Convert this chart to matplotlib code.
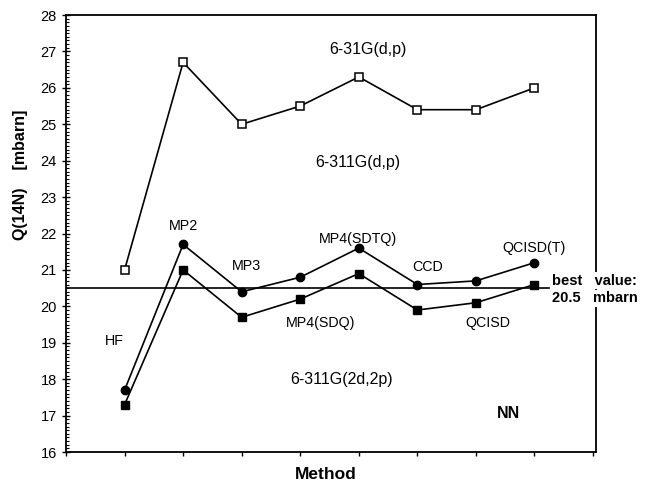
import matplotlib.pyplot as plt
import numpy as np
from matplotlib.ticker import MultipleLocator

plt.rcParams['font.family'] = ['Liberation Sans', 'DejaVu Sans']

methods = ['HF', 'MP2', 'MP3', 'MP4(SDQ)', 'MP4(SDTQ)', 'CCD', 'QCISD', 'QCISD(T)']
q_631g_dp = [21.0, 26.7, 25.0, 25.5, 26.3, 25.4, 25.4, 26.0]
q_6311g_dp = [17.7, 21.7, 20.4, 20.8, 21.6, 20.6, 20.7, 21.2]
q_6311g_2d2p = [17.3, 21.0, 19.7, 20.2, 20.9, 19.9, 20.1, 20.6]
best_value = 20.5

x = np.arange(1, len(methods) + 1)

fig = plt.figure(figsize=(6.45, 4.84), dpi=100)
ax = fig.add_axes([0.1023, 0.066, 0.8217, 0.903])

ax.plot(x, q_631g_dp, '-s', color='black', mfc='white', mec='black', ms=6, mew=1.1, lw=1.2)
ax.plot(x, q_6311g_dp, '-o', color='black', ms=6, lw=1.2)
ax.plot(x, q_6311g_2d2p, '-s', color='black', ms=6, lw=1.2)

# best value line
ax.plot([0, 8.25], [best_value, best_value], color='black', lw=1.2)
ax.text(8.3, 20.7, 'best   value:', fontsize=10.5, fontweight='bold', va='center', ha='left',
        bbox=dict(facecolor='white', edgecolor='none', pad=1))
ax.text(8.3, 20.22, '20.5   mbarn', fontsize=10.5, fontweight='bold', va='center', ha='left',
        bbox=dict(facecolor='white', edgecolor='none', pad=1))

# method labels
label_pos = [(0.82, 19.05), (2.0, 22.2), (3.08, 21.1), (4.35, 19.55),
             (4.98, 21.85), (6.18, 21.08), (7.2, 19.55), (8.0, 21.6)]
for name, (lx, ly) in zip(methods, label_pos):
    ax.text(lx, ly, name, fontsize=10.3, ha='center', va='center')

ax.text(5.15, 27.05, '6-31G(d,p)', fontsize=11.5, ha='center', va='center')
ax.text(4.98, 23.96, '6-311G(d,p)', fontsize=11.5, ha='center', va='center')
ax.text(4.7, 18.0, '6-311G(2d,2p)', fontsize=11.5, ha='center', va='center')
ax.text(7.55, 17.05, 'NN', fontsize=11.5, fontweight='bold', ha='center', va='center')

ax.set_xlim(0, 9.05)
ax.set_ylim(16, 28)
ax.set_xticks(np.arange(0, 10))
ax.set_xticklabels([])
ax.tick_params(axis='x', direction='out', length=3, width=1)
ax.yaxis.set_major_locator(MultipleLocator(1))
ax.yaxis.set_minor_locator(MultipleLocator(0.1))
ax.tick_params(axis='y', which='major', direction='inout', length=6, width=1, labelsize=10.5)
ax.tick_params(axis='y', which='minor', direction='in', length=2.5, width=0.8)
for s in ax.spines.values():
    s.set_linewidth(1.3)

ax.set_xlabel('Method', fontsize=12.5, fontweight='bold')
ax.xaxis.set_label_coords(0.49, -0.035, transform=ax.transAxes)
ax.xaxis.label.set_va('top')
ax.set_ylabel('Q(14N)    [mbarn]', fontsize=11.5, fontweight='bold')
ax.yaxis.set_label_coords(-0.072, 0.634)

fig.savefig('out.png', dpi=100)
